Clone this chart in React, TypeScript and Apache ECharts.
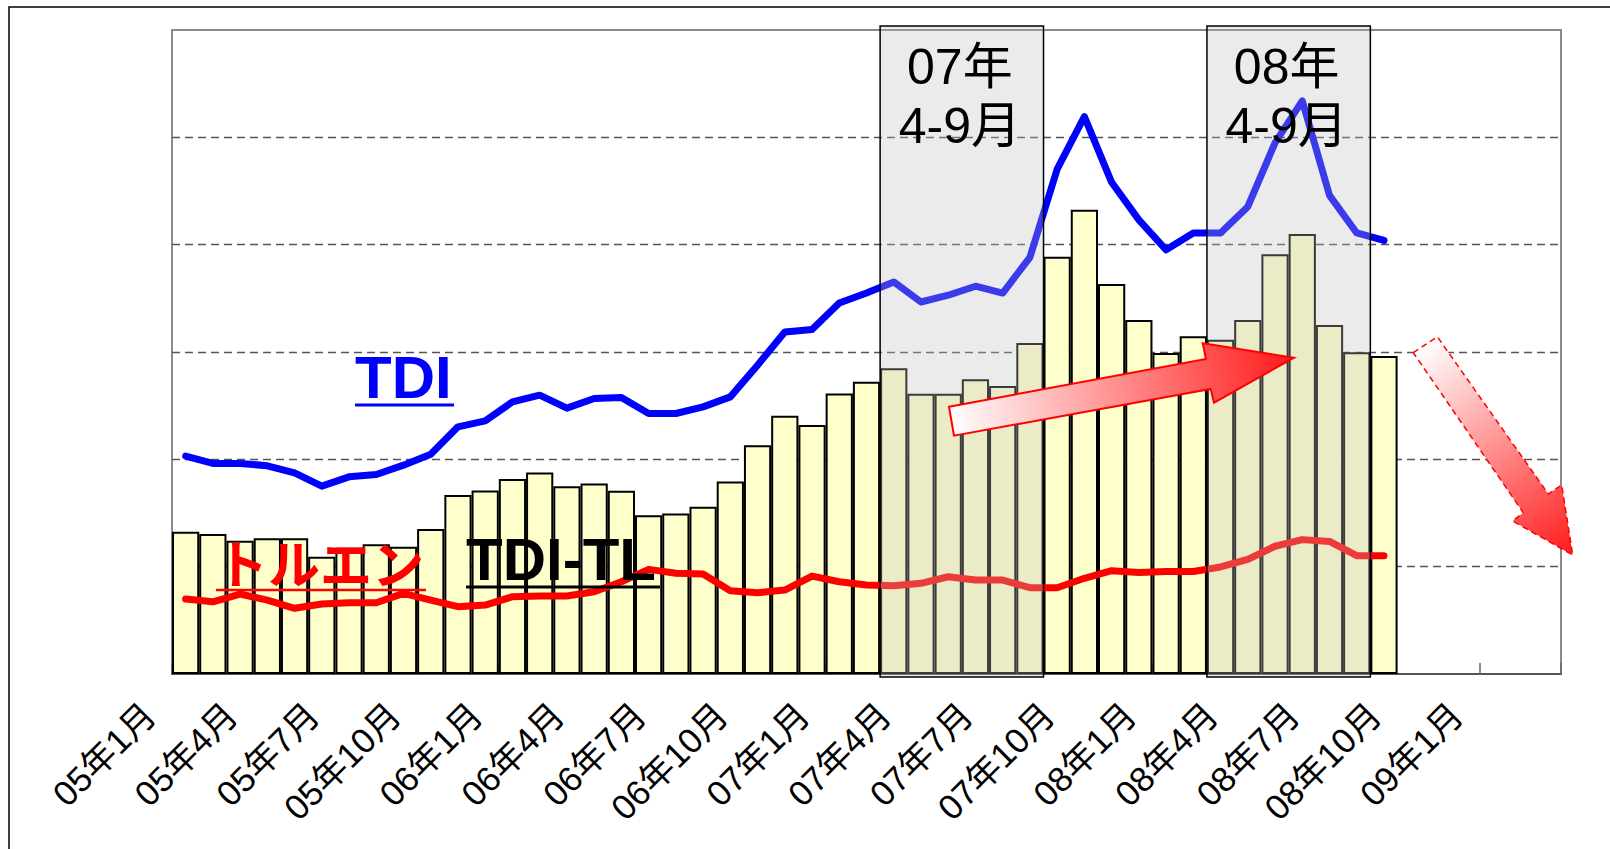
import React, { useEffect, useRef } from 'react';
import * as echarts from 'echarts';

// Month categories (05年1月 .. 09年4月). The plotted axis starts at 05年2月.
const MONTHS = [
  '05年1月', '05年2月', '05年3月', '05年4月', '05年5月', '05年6月', '05年7月', '05年8月', '05年9月', '05年10月', '05年11月', '05年12月',
  '06年1月', '06年2月', '06年3月', '06年4月', '06年5月', '06年6月', '06年7月', '06年8月', '06年9月', '06年10月', '06年11月', '06年12月',
  '07年1月', '07年2月', '07年3月', '07年4月', '07年5月', '07年6月', '07年7月', '07年8月', '07年9月', '07年10月', '07年11月', '07年12月',
  '08年1月', '08年2月', '08年3月', '08年4月', '08年5月', '08年6月', '08年7月', '08年8月', '08年9月', '08年10月', '08年11月', '08年12月',
  '09年1月', '09年2月', '09年3月', '09年4月',
];
const PLOT_MONTHS = MONTHS.slice(1);

const TICK_LABELS = [
  '05年1月', '05年4月', '05年7月', '05年10月', '06年1月', '06年4月', '06年7月', '06年10月',
  '07年1月', '07年4月', '07年7月', '07年10月', '08年1月', '08年4月', '08年7月', '08年10月', '09年1月',
];

// TDI-TL spread (bars), 05年2月 .. 08年10月
const SPREAD = [
  1325, 1304, 1241, 1264, 1264, 1092, 1176, 1208, 1185, 1350, 1667, 1710,
  1816, 1878, 1750, 1774, 1707, 1478, 1496, 1558, 1794, 2132, 2405, 2321,
  2614, 2722, 2849, 2610, 2610, 2747, 2683, 3085, 3888, 4326, 3633, 3298,
  2990, 3147, 3113, 3298, 3910, 4099, 3252, 2997, 2962,
];

// TDI price (blue line)
const TDI = [
  2030, 1962, 1962, 1940, 1874, 1750, 1837, 1859, 1946, 2048, 2303, 2358,
  2535, 2598, 2477, 2567, 2576, 2427, 2427, 2489, 2582, 2877, 3187, 3209,
  3457, 3550, 3653, 3466, 3529, 3613, 3549, 3882, 4703, 5193, 4581, 4231,
  3952, 4109, 4109, 4354, 4948, 5340, 4459, 4109, 4039,
];

// Toluene price (red line)
const TOLUENE = [
  698, 673, 745, 689, 612, 652, 664, 664, 751, 689, 627, 642,
  720, 726, 726, 766, 859, 975, 938, 931, 776, 757, 782, 912,
  859, 829, 822, 845, 906, 875, 875, 804, 804, 892, 962, 945,
  955, 955, 997, 1067, 1190, 1252, 1235, 1102, 1102,
];

const Y_MAX = 6000;
const Y_STEP = 1000;

const HIGHLIGHTS = [
  { from: '07年4月', to: '07年9月', line1: '07年', line2: '4-9月' },
  { from: '08年4月', to: '08年9月', line1: '08年', line2: '4-9月' },
];

const GRID = { left: 172, top: 30, width: 1389, height: 644 };
const SANS = '"Liberation Sans", Arial, "Noto Sans CJK JP", sans-serif';
const CJK = '"Noto Sans CJK JP", "Liberation Sans", sans-serif';

export default function App() {
  const ref = useRef<HTMLDivElement>(null);

  useEffect(() => {
    const el = ref.current;
    if (!el) return;
    const chart = echarts.init(el, null, { renderer: 'svg' });
    const band = GRID.width / PLOT_MONTHS.length;

    chart.setOption({
      animation: false,
      backgroundColor: '#ffffff',
      grid: [
        {
          left: GRID.left, top: GRID.top, width: GRID.width, height: GRID.height,
          show: true, borderColor: '#8a8a8a', borderWidth: 2, backgroundColor: 'transparent',
        },
        {
          left: GRID.left - band - 9, top: GRID.top, width: band * MONTHS.length, height: GRID.height,
          show: false,
        },
      ],
      xAxis: [
        {
          type: 'category', gridIndex: 0, data: PLOT_MONTHS, boundaryGap: true,
          axisLine: { show: true, lineStyle: { color: '#555555', width: 2 } },
          axisTick: { show: true, inside: true, interval: 11, length: 11, lineStyle: { color: '#666666', width: 1.5 } },
          axisLabel: { show: false },
          splitLine: { show: false },
        },
        {
          type: 'category', gridIndex: 1, data: MONTHS, boundaryGap: true,
          axisLine: { show: false }, axisTick: { show: false }, splitLine: { show: false },
          axisLabel: {
            show: true,
            interval: (_i: number, v: string) => TICK_LABELS.includes(v),
            rotate: 45, margin: 35, fontSize: 35, color: '#000000', fontFamily: SANS,
          },
        },
      ],
      yAxis: [
        {
          type: 'value', gridIndex: 0, min: 0, max: Y_MAX, interval: Y_STEP,
          axisLine: { show: false }, axisTick: { show: false }, axisLabel: { show: false },
          splitLine: {
            show: true, showMinLine: false, showMaxLine: false,
            lineStyle: { type: [8, 5], color: '#555555', width: 1.3 },
          },
        },
        { type: 'value', gridIndex: 1, show: false, min: 0, max: Y_MAX },
      ],
      series: [
        {
          name: 'TDI-TL', type: 'bar', xAxisIndex: 0, yAxisIndex: 0, data: SPREAD,
          barCategoryGap: '0%', z: 2,
          itemStyle: { color: '#FFFFCC', borderColor: '#000000', borderWidth: 2 },
        },
        {
          name: 'TDI', type: 'line', xAxisIndex: 0, yAxisIndex: 0, data: TDI,
          showSymbol: false, symbol: 'none', z: 3,
          lineStyle: { color: '#0000FF', width: 7, join: 'round', cap: 'round' },
          itemStyle: { color: '#0000FF' },
        },
        {
          name: 'トルエン', type: 'line', xAxisIndex: 0, yAxisIndex: 0, data: TOLUENE,
          showSymbol: false, symbol: 'none', z: 3,
          lineStyle: { color: '#FF0000', width: 7, join: 'round', cap: 'round' },
          itemStyle: { color: '#FF0000' },
        },
      ],
    });

    const yTop = chart.convertToPixel({ yAxisIndex: 0 }, Y_MAX) as number;
    const yBottom = chart.convertToPixel({ yAxisIndex: 0 }, 0) as number;

    const elements: any[] = [
      {
        type: 'rect', z: 1, silent: true,
        shape: { x: 9, y: 7, width: 1700, height: 1000 },
        style: { fill: 'none', stroke: '#000000', lineWidth: 1.5 },
      },
    ];

    HIGHLIGHTS.forEach((h) => {
      const cx0 = chart.convertToPixel({ xAxisIndex: 0 }, h.from) as number;
      const cx1 = chart.convertToPixel({ xAxisIndex: 0 }, h.to) as number;
      const x0 = cx0 - band / 2;
      const x1 = cx1 + band / 2;
      const cx = (x0 + x1) / 2;
      elements.push({
        type: 'rect', z: 100, silent: true,
        shape: { x: x0, y: yTop - 4, width: x1 - x0, height: yBottom - yTop + 7 },
        style: { fill: 'rgba(191,191,191,0.31)', stroke: '#000000', lineWidth: 1.5 },
      });
      elements.push({
        type: 'text', z: 105, x: cx - 2, y: yTop + 37,
        style: { text: h.line1, fontSize: 50, fontFamily: SANS, fill: '#000000', align: 'center', verticalAlign: 'middle' },
      });
      elements.push({
        type: 'text', z: 105, x: cx - 2, y: yTop + 96,
        style: { text: h.line2, fontSize: 50, fontFamily: SANS, fill: '#000000', align: 'center', verticalAlign: 'middle' },
      });
    });

    // Series name labels with underlines
    elements.push(
      {
        type: 'text', z: 120, x: 355, y: 377,
        style: { text: 'TDI', fontSize: 60, fontWeight: 'bold', fontFamily: SANS, fill: '#0000FF', align: 'left', verticalAlign: 'middle' },
      },
      { type: 'line', z: 120, shape: { x1: 355, y1: 405, x2: 454, y2: 405 }, style: { stroke: '#0000FF', lineWidth: 3 } },
      {
        type: 'text', z: 120, x: 216, y: 561,
        style: { text: 'トルエン', fontSize: 52, fontWeight: 'bold', fontFamily: CJK, fill: '#FF0000', align: 'left', verticalAlign: 'middle' },
      },
      { type: 'line', z: 120, shape: { x1: 216, y1: 590, x2: 426, y2: 590 }, style: { stroke: '#FF0000', lineWidth: 2.5 } },
      {
        type: 'text', z: 120, x: 466, y: 559,
        style: { text: 'TDI-TL', fontSize: 60, fontWeight: 'bold', fontFamily: SANS, fill: '#000000', align: 'left', verticalAlign: 'middle' },
      },
      { type: 'line', z: 120, shape: { x1: 466, y1: 587, x2: 660, y2: 587 }, style: { stroke: '#000000', lineWidth: 3 } },
    );

    // Rising arrow
    elements.push({
      type: 'polygon', z: 130, silent: true,
      shape: {
        points: [
          [949, 406.7], [1206, 359], [1202.7, 343.3], [1294, 357.7],
          [1214, 402.7], [1210.7, 389], [954, 435.7],
        ],
      },
      style: {
        fill: new echarts.graphic.LinearGradient(949, 420, 1294, 358, [
          { offset: 0, color: '#FFFFFF' },
          { offset: 1, color: '#FF1A1A' },
        ], true),
        stroke: '#FF0000', lineWidth: 2, lineJoin: 'miter',
      },
    });

    // Falling (dashed) arrow
    elements.push({
      type: 'polygon', z: 130, silent: true,
      shape: {
        points: [
          [1413.3, 352.7], [1437.3, 336.7], [1548.3, 494], [1561.7, 485],
          [1572.7, 555], [1512.7, 521], [1523.3, 512.7],
        ],
      },
      style: {
        fill: new echarts.graphic.LinearGradient(1425, 345, 1573, 555, [
          { offset: 0, color: '#FFFFFF' },
          { offset: 1, color: '#FF1A1A' },
        ], true),
        stroke: '#FF0000', lineWidth: 1.5, lineDash: [6, 4],
      },
    });

    chart.setOption({ graphic: { elements } });

    return () => {
      chart.dispose();
    };
  }, []);

  return (
    <div
      ref={ref}
      style={{ position: 'fixed', left: 0, top: 0, width: 1610, height: 849, background: '#ffffff' }}
    />
  );
}
